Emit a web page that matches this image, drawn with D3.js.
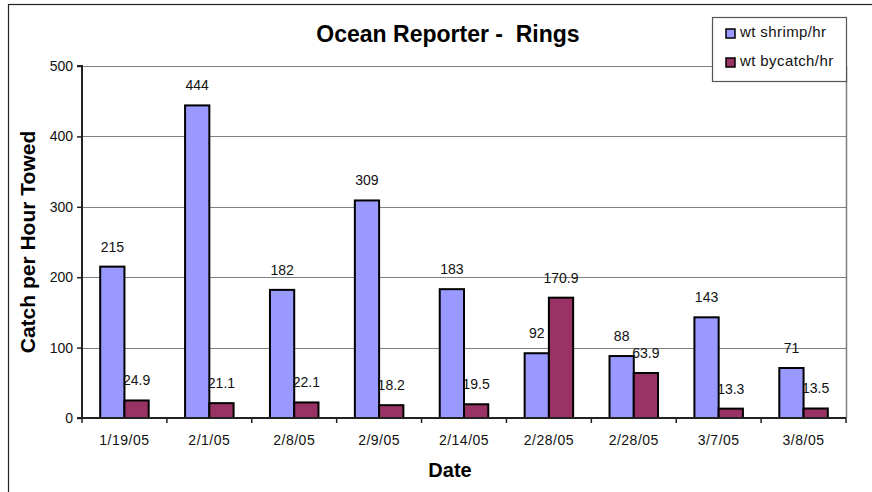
<!DOCTYPE html>
<html><head><meta charset="utf-8">
<script src="https://cdn.jsdelivr.net/npm/d3@7"></script>
<style>
body{margin:0;background:#fff;}
svg{display:block;font-family:"Liberation Sans",Arial,sans-serif;}
</style></head>
<body><svg id="c" width="872" height="492"></svg>
<script>
const categories = ["1/19/05","2/1/05","2/8/05","2/9/05","2/14/05","2/28/05","2/28/05","3/7/05","3/8/05"];
const shrimp = [215,444,182,309,183,92,88,143,71];
const bycatch = [24.9,21.1,22.1,18.2,19.5,170.9,63.9,13.3,13.5];
const seriesNames = ["wt shrimp/hr","wt bycatch/hr"];
const seriesLabels = [["215","444","182","309","183","92","88","143","71"],["24.9","21.1","22.1","18.2","19.5","170.9","63.9","13.3","13.5"]];
const yTicks = [0,100,200,300,400,500];
const colors = ["#9999FF","#993366"];

const svg = d3.select("#c");
const L=82,R=846,T=66,B=418;

// outer frame
svg.append("rect").attr("x",8.5).attr("y",4.5).attr("width",900).attr("height",600)
  .attr("fill","none").attr("stroke","#222").attr("stroke-width",1.2);

const x = d3.scaleBand().domain(d3.range(categories.length)).range([L,R]).padding(0);
const x1 = d3.scaleBand().domain([0,1]).range([0,x.bandwidth()]).paddingInner(0).paddingOuter(0.75);
const y = d3.scaleLinear().domain([0,500]).range([B,T]);

// gridlines
svg.append("g").selectAll("line").data(yTicks.filter(d=>d>0)).join("line")
  .attr("x1",L).attr("x2",R).attr("y1",d=>Math.round(y(d))+0.5).attr("y2",d=>Math.round(y(d))+0.5)
  .attr("stroke","#808080").attr("stroke-width",1);
// plot right border
svg.append("line").attr("x1",R+0.5).attr("x2",R+0.5).attr("y1",T).attr("y2",B)
  .attr("stroke","#808080").attr("stroke-width",1.5);

// bars
const data = [shrimp,bycatch];
data.forEach((vals,s)=>{
  svg.append("g").selectAll("rect").data(vals).join("rect")
    .attr("x",(d,i)=>x(i)+x1(s)).attr("width",x1.bandwidth())
    .attr("y",d=>y(d)).attr("height",d=>B-y(d))
    .attr("fill",colors[s]).attr("stroke","#000").attr("stroke-width",2);
  svg.append("g").selectAll("text").data(vals).join("text")
    .attr("x",(d,i)=>x(i)+x1(s)+x1.bandwidth()/2).attr("y",d=>y(d)-15)
    .attr("text-anchor","middle").attr("font-size",14).attr("fill","#111")
    .text((d,i)=>seriesLabels[s][i]);
});

// y axis
const ya = svg.append("g").attr("transform",`translate(${L},0)`)
  .call(d3.axisLeft(y).tickValues(yTicks).tickSize(5).tickFormat(d3.format("d")));
ya.select(".domain").attr("stroke","#222").attr("stroke-width",2).attr("d",`M-5,${y(500)}H0V${B}H-5`);
ya.selectAll(".tick line").attr("stroke","#222").attr("stroke-width",1.5);
ya.selectAll(".tick text").attr("font-size",14).attr("font-family","Liberation Sans, Arial, sans-serif").attr("fill","#111").attr("x",-9);

// x axis
const xa = svg.append("g").attr("transform",`translate(0,${B})`);
xa.append("line").attr("x1",L).attr("x2",R).attr("y1",0).attr("y2",0).attr("stroke","#222").attr("stroke-width",2);
xa.selectAll("line.tk").data(d3.range(categories.length+1)).join("line").attr("class","tk")
  .attr("x1",i=>L+i*x.step()).attr("x2",i=>L+i*x.step()).attr("y1",0).attr("y2",5)
  .attr("stroke","#222").attr("stroke-width",1.5);
xa.selectAll("text").data(categories).join("text")
  .attr("x",(d,i)=>x(i)+x.bandwidth()/2).attr("y",27)
  .attr("text-anchor","middle").attr("font-size",14).attr("fill","#111").attr("letter-spacing",0.5)
  .text(d=>d);

// titles
svg.append("text").attr("x",448).attr("y",42).attr("text-anchor","middle")
  .attr("font-size",23).attr("font-weight","bold").style("white-space","pre")
  .text("Ocean Reporter -  Rings");
svg.append("text").attr("x",450).attr("y",477).attr("text-anchor","middle")
  .attr("font-size",20).attr("font-weight","bold").text("Date");
svg.append("text").attr("transform","translate(35,242) rotate(-90)").attr("text-anchor","middle")
  .attr("font-size",21).attr("font-weight","bold").text("Catch per Hour Towed");

// legend
const lg = svg.append("g");
lg.append("rect").attr("x",712.5).attr("y",17.5).attr("width",134).attr("height",64)
  .attr("fill","#fff").attr("stroke","#555").attr("stroke-width",1.2);
seriesNames.forEach((n,i)=>{
  lg.append("rect").attr("x",726).attr("y",29+i*29).attr("width",9).attr("height",9)
    .attr("fill",colors[i]).attr("stroke","#000").attr("stroke-width",1.5);
  lg.append("text").attr("x",740).attr("y",37+i*29).attr("font-size",15).attr("letter-spacing",0.4).attr("fill","#111").text(n);
});
</script></body></html>
